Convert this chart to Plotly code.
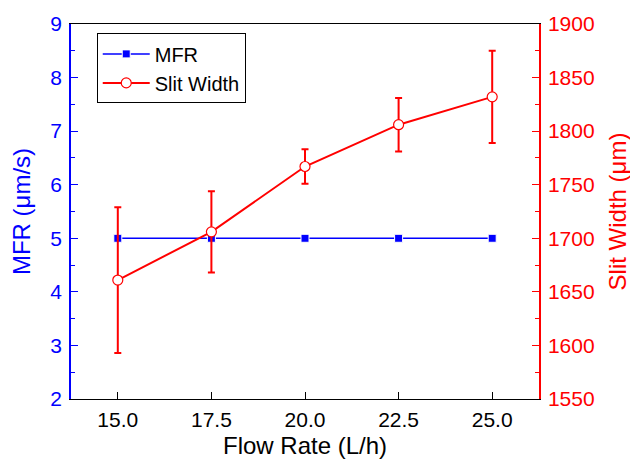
import plotly.graph_objects as go

flow_rate = [15.0, 17.5, 20.0, 22.5, 25.0]
mfr = [5.0, 5.0, 5.0, 5.0, 5.0]
slit_width = [1661, 1706, 1767, 1806, 1832]
slit_err = [68, 38, 16, 25, 43]

x_ticks = [15.0, 17.5, 20.0, 22.5, 25.0]
x_ticklabels = ["15.0", "17.5", "20.0", "22.5", "25.0"]

BLUE = "#0000FF"
RED = "#FF0000"
FONT = "Liberation Sans, Arial, sans-serif"

fig = go.Figure()
fig.add_trace(go.Scatter(
    x=flow_rate, y=mfr, name="MFR", mode="lines+markers",
    line=dict(color=BLUE, width=1.5),
    marker=dict(symbol="square", size=8, color=BLUE, line=dict(color="white", width=1)),
    yaxis="y",
))
fig.add_trace(go.Scatter(
    x=flow_rate, y=slit_width, name="Slit Width", mode="lines+markers",
    line=dict(color=RED, width=2),
    marker=dict(symbol="circle", size=10, color="white", line=dict(color=RED, width=1.2)),
    error_y=dict(type="data", array=slit_err, visible=True, color=RED, thickness=2, width=3.5),
    yaxis="y2",
))

# the page body has an 8px margin, so the figure is 8px smaller than the window
fig.update_layout(
    width=630, height=451,
    margin=dict(l=63, r=99, t=16, b=60, autoexpand=False),
    paper_bgcolor="white", plot_bgcolor="white",
    font=dict(family=FONT, size=21, color="black"),
    showlegend=True,
    legend=dict(
        x=0.055, y=0.975, xanchor="left", yanchor="top",
        bordercolor="black", borderwidth=1, bgcolor="white",
        font=dict(size=20, family=FONT, color="black"),
        tracegroupgap=0, itemwidth=47,
    ),
    xaxis=dict(
        range=[13.75, 26.25],
        tickvals=x_ticks, ticktext=x_ticklabels,
        ticks="inside", ticklen=7, tickwidth=1, tickcolor="black",
        showline=True, linecolor="black", linewidth=1, mirror=True,
        showgrid=False, zeroline=False,
        ticklabelstandoff=2,
        tickfont=dict(size=21, family=FONT, color="black"),
        title=dict(text="Flow Rate (L/h)", font=dict(size=24, family=FONT, color="black"), standoff=6),
    ),
    yaxis=dict(
        range=[2, 9], dtick=1, tick0=2,
        ticks="inside", ticklen=7, tickwidth=1, tickcolor=BLUE,
        minor=dict(ticks="inside", ticklen=4, dtick=0.5, tickcolor=BLUE, showgrid=False),
        showline=True, linecolor=BLUE, linewidth=1.5,
        showgrid=False, zeroline=False,
        ticklabelstandoff=3,
        tickfont=dict(size=21, family=FONT, color=BLUE),
        title=dict(text="MFR (\u03bcm/s)", font=dict(size=24, family=FONT, color=BLUE), standoff=14),
    ),
    yaxis2=dict(
        range=[1550, 1900], dtick=50, tick0=1550,
        overlaying="y", side="right",
        ticks="inside", ticklen=7, tickwidth=1, tickcolor=RED,
        minor=dict(ticks="inside", ticklen=4, dtick=25, tickcolor=RED, showgrid=False),
        showline=True, linecolor=RED, linewidth=1.5,
        showgrid=False, zeroline=False,
        ticklabelstandoff=3,
        tickfont=dict(size=21, family=FONT, color=RED),
        title=dict(text="Slit Width (\u03bcm)", font=dict(size=24, family=FONT, color=RED), standoff=16),
    ),
)

fig.write_html("out.html")
